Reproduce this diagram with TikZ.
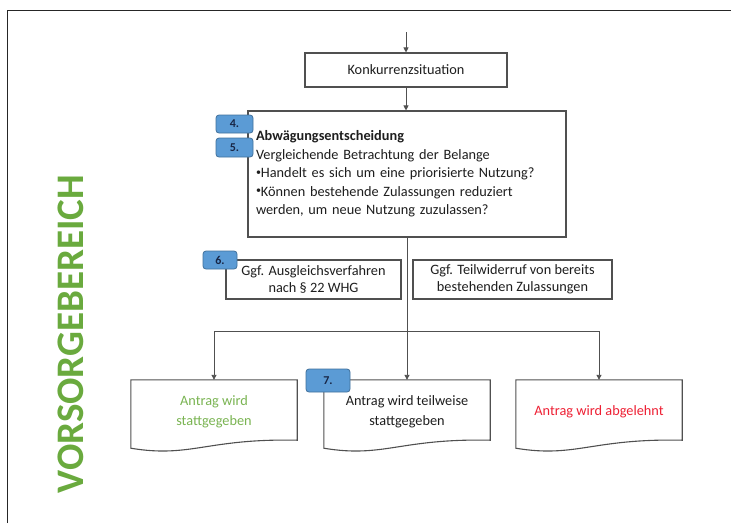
\documentclass[tikz,border=0pt]{standalone}
\usepackage{fontspec}
\setmainfont{Carlito}
\usetikzlibrary{arrows.meta,positioning}
\definecolor{vgreen}{RGB}{106,170,62}
\definecolor{lgreen}{RGB}{122,180,82}
\definecolor{ared}{RGB}{238,32,52}
\definecolor{tdark}{RGB}{30,30,30}
\definecolor{tagfill}{RGB}{91,155,213}
\definecolor{tagdraw}{RGB}{65,113,156}
\definecolor{tagtext}{RGB}{24,38,70}
\definecolor{lgray}{RGB}{80,80,80}
\newcommand{\smallbul}{{\fontsize{10}{10}\selectfont\raisebox{2.5pt}{•}}}
\tikzset{
  plainbox/.style={draw=lgray, line width=1.1pt, rectangle, inner sep=0pt, align=center,
    text=tdark, font=\fontsize{14.3}{17}\selectfont},
  docbox/.style={rectangle, inner sep=0pt, align=center, minimum width=166pt, minimum height=60pt,
    font=\fontsize{14.3}{20}\selectfont},
  docline/.style={draw=lgray, line width=1.1pt, fill=white},
  tagbox/.style={rectangle, rounded corners=3pt, fill=tagfill, draw=tagdraw, line width=0.8pt,
    inner sep=0pt, text=tagtext, font=\fontsize{12}{12}\selectfont\bfseries},
  conn/.style={draw=lgray, line width=0.9pt},
  arr/.style={conn, -{Triangle[length=5pt,width=5pt]}},
}
\begin{document}
\begin{tikzpicture}[x=1pt,y=-1pt]
\useasboundingbox (0,0) rectangle (731,523);
\fill[white] (0,0) rectangle (731,523);
% outer frame
\draw[line width=1.4pt, black!85] (7.5,523) -- (7.5,10.5) -- (731,10.5);
% side label
\node[rotate=90, text=vgreen, font=\fontsize{39}{39}\selectfont\bfseries] (side) at (70.5,334) {VORSORGEBEREICH};
% top entry
\coordinate (entry) at (406,32);
\node[plainbox, minimum width=202pt, minimum height=34pt] (konk) at (406,70) {Konkurrenzsituation};
\node[plainbox, minimum width=318pt, minimum height=126pt, text width=302pt, align=left,
  font=\fontsize{14.3}{18.5}\selectfont] (abw) at (407,174)
  {\textbf{Abwägungsentscheidung}\\Vergleichende Betrachtung der Belange\\\smallbul Handelt es sich um eine priorisierte Nutzung?\\\smallbul Können bestehende Zulassungen reduziert\\werden, um neue Nutzung zuzulassen?};
\node[tagbox, minimum width=37pt, minimum height=18pt] (t4) at (234.5,124) {4.};
\node[tagbox, minimum width=37pt, minimum height=19pt] (t5) at (234.5,147.5) {5.};
% middle boxes
\node[plainbox, minimum width=175pt, minimum height=39pt] (ausg) at (313.5,279.5) {Ggf. Ausgleichsverfahren\\nach § 22 WHG};
\node[plainbox, minimum width=199pt, minimum height=39pt] (teil) at (512.5,279.5) {Ggf. Teilwiderruf von bereits\\bestehenden Zulassungen};
\node[tagbox, minimum width=34pt, minimum height=18pt] (t6) at (220,260) {6.};
% document boxes
\node[docbox] (d1) at (214,410) {};
\node[docbox] (d2) at (407,410) {};
\node[docbox] (d3) at (599,410) {};
\foreach \d in {d1,d2,d3}{
  \draw[docline] (\d.north west) -- (\d.north east) -- (\d.south east)
    .. controls ([xshift=-90pt,yshift=2pt]\d.south east) and ([xshift=60pt,yshift=-18pt]\d.south west) ..
    ([yshift=-8pt]\d.south west) -- cycle;
}
\node[docbox, text=lgreen] (d1t) at (214,412) {Antrag wird\\stattgegeben};
\node[docbox, text=tdark] (d2t) at (407,412) {Antrag wird teilweise\\stattgegeben};
\node[docbox, text=ared] (d3t) at (599,412) {Antrag wird abgelehnt};
\node[tagbox, minimum width=44pt, minimum height=23pt] (t7) at (328,380.5) {7.};
% connectors
\coordinate (branch) at (407,331);
\draw[arr] (entry) -- (konk);
\draw[arr] (konk) -- (abw.north -| konk);
\draw[arr] (abw.south) -- (d2.north);
\draw[arr] (branch) -| (d1.north);
\draw[arr] (branch) -| (d3.north);
\end{tikzpicture}
\end{document}
